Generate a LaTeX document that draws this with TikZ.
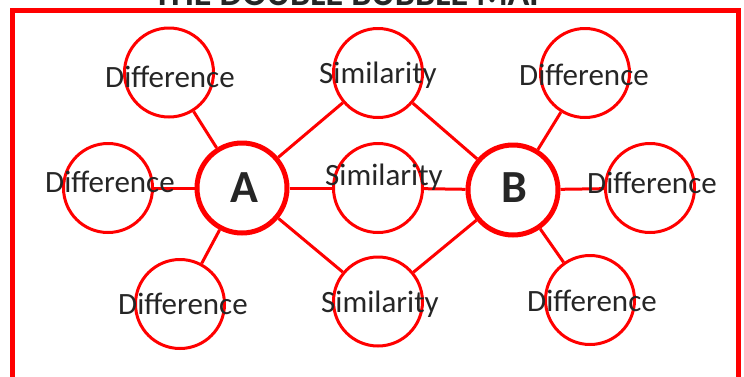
\documentclass[tikz,border=0pt]{standalone}
\usepackage{fontspec}
\setmainfont{Carlito}
\definecolor{bubred}{RGB}{255,0,0}
\definecolor{txtgray}{RGB}{38,38,38}
\begin{document}
\begin{tikzpicture}[x=1pt,y=-1pt,
  bubble/.style={circle,draw=bubred,line width=3pt,minimum size=89pt,inner sep=0pt,fill=white},
  mainbubble/.style={circle,draw=bubred,line width=5pt,minimum size=90pt,inner sep=0pt,fill=white},
  link/.style={draw=bubred,line width=3pt},
  lbl/.style={anchor=base,inner sep=0pt,text=txtgray,font=\fontsize{31}{31}\selectfont},
  biglbl/.style={anchor=base,inner sep=0pt,text=txtgray,font=\fontsize{46}{46}\selectfont\bfseries},
  ttl/.style={anchor=base,inner sep=0pt,text=txtgray,font=\fontsize{36}{36}\selectfont\bfseries}]
\useasboundingbox (0,0) rectangle (744,376);
% frame
\draw[draw=bubred,line width=5pt] (12.5,400) -- (12.5,10) -- (738.5,10) -- (738.5,400);
\node[ttl] (title) at (351,5) {THE DOUBLE BUBBLE MAP};
% bubbles
\node[mainbubble] (A) at (242,188) {};
\node[mainbubble] (B) at (513,190) {};
\node[bubble] (dtl) at (169,72.5) {};
\node[bubble] (dl) at (108,188) {};
\node[bubble] (dbl) at (180,304) {};
\node[bubble] (dtr) at (585,73) {};
\node[bubble] (dr) at (650,188) {};
\node[bubble] (dbr) at (590,300) {};
\node[bubble] (st) at (378,73) {};
\node[bubble] (sm) at (378,188) {};
\node[bubble] (sb) at (378,301.5) {};
% links
\foreach \n in {dtl,dl,dbl,st,sm,sb} \draw[link] (A) -- (\n);
\foreach \n in {dtr,dr,dbr,st,sm,sb} \draw[link] (B) -- (\n);
% labels
\node[biglbl] (tA) at (244,202) {A};
\node[biglbl] (tB) at (514.5,202) {B};
\node[lbl] (ltl) at (170,87) {Difference};
\node[lbl] (ll) at (110,192) {Difference};
\node[lbl] (lbl1) at (183,314) {Difference};
\node[lbl] (ltr) at (584,85) {Difference};
\node[lbl] (lr) at (652,193) {Difference};
\node[lbl] (lbr) at (592,311) {Difference};
\node[lbl] (lst) at (378,83) {Similarity};
\node[lbl] (lsm) at (384,185) {Similarity};
\node[lbl] (lsb) at (380,312) {Similarity};
\end{tikzpicture}
\end{document}
